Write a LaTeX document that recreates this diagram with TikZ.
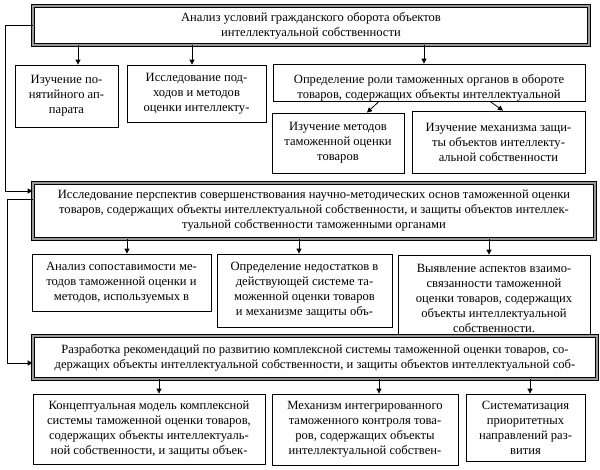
\documentclass[tikz,border=0pt]{standalone}
\usepackage{fontspec}
\setmainfont{Liberation Serif}
\usetikzlibrary{arrows.meta}

\begin{document}
\begin{tikzpicture}[x=1pt,y=-1pt,
  box/.style={shape=rectangle,draw=black,fill=white,align=center,line width=0.8pt,inner sep=2pt,font=\fontsize{12.6}{15}\selectfont},
  lowbox/.style={box,execute at begin node=\rule{0pt}{15pt}},
  mainbox/.style={lowbox,double=black!40,double distance=2.4pt},
  arr/.style={-{Triangle[length=5pt,width=5pt]},draw=black,line width=0.8pt}]
\useasboundingbox (0,0) rectangle (600,469);

\node[mainbox,minimum width=556pt,minimum height=39pt] (0) at (311,25.5) {Анализ условий гражданского оборота объектов\\интеллектуальной собственности};
\node[box,minimum width=103pt,minimum height=62pt] (1) at (66.5,96) {Изучение по-\\нятийного ап-\\парата};
\node[box,minimum width=139pt,minimum height=57pt] (2) at (196.5,93.5) {Исследование под-\\ходов и методов\\оценки интеллекту-};
\node[box,minimum width=312pt,minimum height=37pt,inner ysep=0pt] (3) at (429,82.5) {\rule{0pt}{19pt}Определение роли таможенных органов в обороте\\товаров, содержащих объекты интеллектуальной};
\node[box,minimum width=132pt,minimum height=60pt] (4) at (338,143) {Изучение методов\\таможенной оценки\\товаров};
\node[box,minimum width=173pt,minimum height=62pt] (5) at (498.5,142) {Изучение механизма защи-\\ты объектов интеллекту-\\альной собственности};

\node[mainbox,minimum width=562pt,minimum height=56pt] (6) at (314,211) {Исследование перспектив совершенствования научно-методических основ таможенной оценки\\товаров, содержащих объекты интеллектуальной собственности, и защиты объектов интеллек-\\туальной собственности таможенными органами};
\node[box,minimum width=179pt,minimum height=57pt] (7) at (121.5,282.5) {Анализ сопоставимости ме-\\тодов таможенной оценки и\\методов, используемых в};
\node[box,minimum width=175pt,minimum height=73pt] (8) at (304.5,290.5) {Определение недостатков в\\действующей системе та-\\моженной оценки товаров\\и механизме защиты объ-};
\node[box,minimum width=192pt,minimum height=86pt] (9) at (494,298) {Выявление аспектов взаимо-\\связанности таможенной\\оценки товаров, содержащих\\объекты интеллектуальной\\собственности.};

\node[mainbox,minimum width=564pt,minimum height=43pt] (10) at (315,357.5) {Разработка рекомендаций по развитию комплексной системы таможенной оценки товаров, со-\\держащих объекты интеллектуальной собственности, и защиты объектов интеллектуальной соб-};
\node[lowbox,minimum width=232pt,minimum height=70pt] (11) at (149,429) {Концептуальная модель комплексной\\системы таможенной оценки товаров,\\содержащих объекты интеллектуаль-\\ной собственности, и защиты объек-};
\node[lowbox,minimum width=186pt,minimum height=71pt] (12) at (365,429.5) {Механизм интегрированного\\таможенного контроля това-\\ров, содержащих объекты\\интеллектуальной собствен-};
\node[lowbox,minimum width=119pt,minimum height=67pt] (13) at (525.5,427.5) {Систематизация\\приоритетных\\направлений раз-\\вития};

\draw [arr] ([xshift=11.5pt]1.north |- 0.south) -- ([xshift=11.5pt]1.north);
\draw [arr] ([xshift=-4.5pt]2.north |- 0.south) -- ([xshift=-4.5pt]2.north);
\draw [arr] ([xshift=-5pt]3.north |- 0.south) -- ([xshift=-5pt]3.north);
\draw [arr] ([xshift=-50pt]3.south) -- ([xshift=29pt]4.north);
\draw [arr] ([xshift=61pt]3.south) -- ([xshift=4.5pt]5.north);
\draw [arr] (0.west) -- ++(-27,0) |- ([yshift=20pt]6.west);
\draw [arr] ([xshift=5.5pt]7.north |- 6.south) -- ([xshift=5.5pt]7.north);
\draw [arr] ([xshift=-5.5pt]8.north |- 6.south) -- ([xshift=-5.5pt]8.north);
\draw [arr] ([xshift=-5pt]9.north |- 6.south) -- ([xshift=-5pt]9.north);
\draw [arr] ([yshift=12pt]6.west) -- ++(-25.5,0) |- ([yshift=-5.5pt]10.west);
\draw [arr] ([xshift=10pt]11.north |- 10.south) -- ([xshift=10pt]11.north);
\draw [arr] ([xshift=14pt]12.north |- 10.south) -- ([xshift=14pt]12.north);
\draw [arr] ([xshift=4.5pt]13.north |- 10.south) -- ([xshift=4.5pt]13.north);
\end{tikzpicture}
\end{document}
